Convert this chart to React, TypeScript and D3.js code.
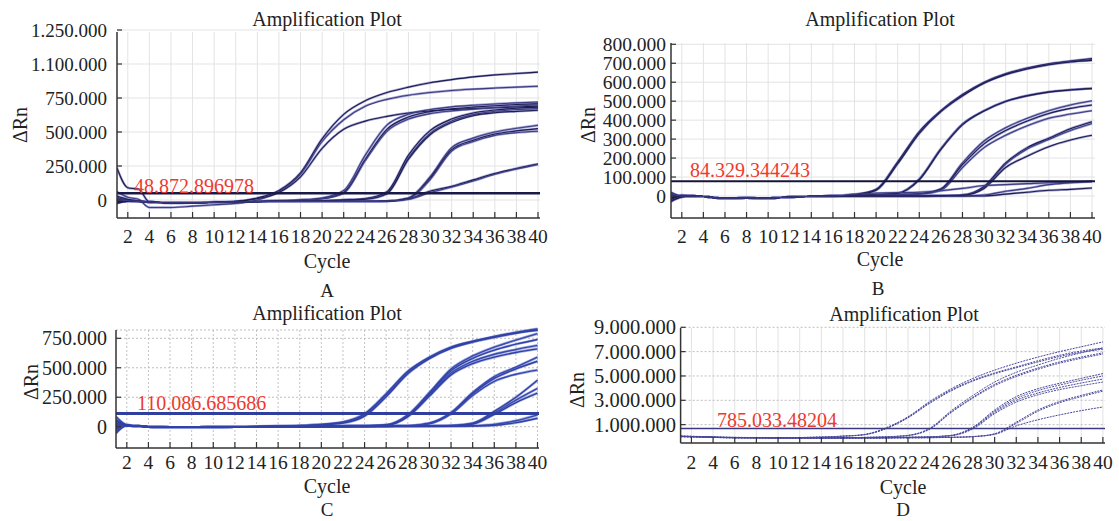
import React, { useRef, useEffect } from "react";
import * as d3 from "d3";

// sampled cycles shared by every curve
const cycles = [1, 2, 3, 4, 6, 8, 10, 12, 14, 16, 18, 20, 22, 24, 26, 28, 30, 32, 34, 36, 38, 40];
const xTickValues = [2, 4, 6, 8, 10, 12, 14, 16, 18, 20, 22, 24, 26, 28, 30, 32, 34, 36, 38, 40];

// ΔRn in thousands, one row per well
const curvesA = [
  [235, 90, 80, -15, -22, -20, -15, -10, 15, 70, 200, 450, 630, 730, 790, 830, 862, 885, 905, 920, 930, 940],
  [60, 20, 5, -55, -55, -45, -35, -25, 0, 60, 190, 430, 590, 690, 740, 770, 790, 805, 815, 823, 830, 836],
  [-20, -10, -12, -15, -22, -20, -15, -10, 10, 55, 170, 380, 520, 580, 615, 640, 655, 665, 672, 678, 684, 690],
  [20, 0, -5, -15, -20, -20, -18, -15, -10, -5, 0, 15, 70, 330, 550, 630, 665, 685, 697, 706, 714, 720],
  [10, 0, -5, -15, -20, -20, -18, -15, -10, -5, 0, 10, 55, 300, 520, 610, 650, 670, 683, 693, 702, 708],
  [-5, 0, -5, -15, -20, -20, -18, -15, -10, -5, 0, 10, 50, 290, 505, 595, 635, 655, 668, 680, 690, 700],
  [30, 5, -10, -15, -20, -20, -18, -15, -12, -10, -8, -5, 0, 10, 60, 330, 510, 595, 640, 662, 675, 683],
  [0, -5, -10, -15, -20, -20, -18, -15, -12, -10, -8, -5, 0, 8, 50, 310, 490, 580, 628, 652, 665, 672],
  [-10, -5, -10, -15, -20, -20, -18, -15, -12, -10, -8, -5, 0, 5, 45, 300, 480, 570, 620, 642, 652, 660],
  [0, -5, -10, -15, -20, -20, -18, -15, -12, -10, -10, -10, -10, -10, -8, 15, 170, 385, 455, 500, 528, 550],
  [-15, -5, -10, -15, -20, -20, -18, -15, -12, -10, -10, -10, -10, -10, -8, 12, 160, 370, 440, 485, 508, 525],
  [5, -5, -10, -15, -20, -20, -18, -15, -12, -10, -10, -10, -10, -10, -8, 10, 150, 360, 430, 475, 495, 505],
  [-25, -10, -10, -15, -20, -20, -18, -15, -12, -10, -10, -10, -10, -10, -8, 8, 65, 100, 148, 195, 232, 265],
  [10, -5, -10, -15, -20, -20, -18, -15, -12, -10, -10, -10, -10, -10, -8, 5, 55, 95, 140, 190, 228, 262],
];

const curvesB = [
  [20, 0, 0, -3, -12, -10, -12, -5, -2, 0, 8, 35, 180, 340, 450, 535, 600, 645, 675, 697, 712, 725],
  [-10, 5, 0, -3, -12, -10, -12, -5, -2, 0, 6, 32, 175, 335, 448, 530, 597, 642, 672, 695, 710, 720],
  [-30, -5, 0, -3, -12, -10, -12, -5, -2, 0, 5, 30, 170, 330, 445, 528, 595, 640, 670, 692, 707, 715],
  [10, 0, 0, -3, -12, -10, -12, -5, -2, 0, 3, 8, 15, 90, 250, 380, 450, 500, 530, 550, 560, 568],
  [-20, 0, 0, -3, -12, -10, -12, -5, -2, 0, 3, 8, 14, 85, 245, 375, 448, 498, 528, 548, 559, 566],
  [15, 0, 0, -3, -12, -10, -12, -5, -2, 0, 2, 5, 8, 12, 38, 175, 290, 360, 410, 450, 480, 502],
  [-15, 0, 0, -3, -12, -10, -12, -5, -2, 0, 2, 5, 8, 12, 35, 165, 275, 345, 395, 435, 462, 480],
  [5, 0, 0, -3, -12, -10, -12, -5, -2, 0, 2, 5, 8, 10, 30, 150, 255, 320, 370, 410, 432, 450],
  [-25, -5, 0, -3, -12, -10, -12, -5, -2, 0, 0, 0, 0, 0, 2, 5, 50, 175, 255, 305, 355, 392],
  [0, 0, 0, -3, -12, -10, -12, -5, -2, 0, 0, 0, 0, 0, 2, 5, 45, 168, 248, 298, 345, 382],
  [-5, 0, 0, -3, -12, -10, -12, -5, -2, 0, 0, 0, 0, 0, 2, 4, 40, 150, 210, 260, 295, 320],
  [0, 0, 0, -3, -12, -10, -12, -5, -2, 0, 0, 0, 0, 0, 0, 0, 5, 25, 40, 60, 70, 78],
  [-10, 0, 0, -3, -12, -10, -12, -5, -2, 0, 0, 0, 0, 0, 0, 0, 0, 10, 20, 30, 35, 42],
  [5, 0, 0, -3, -12, -10, -12, -5, -2, 0, 10, 15, 18, 20, 28, 40, 55, 60, 65, 70, 72, 75],
];

const curvesC = [
  [85, 15, 5, 0, -5, -5, -3, 0, 2, 5, 10, 20, 40, 110, 280, 470, 590, 675, 725, 765, 800, 830],
  [40, 15, 5, 0, -5, -5, -3, 0, 2, 5, 9, 18, 36, 100, 270, 462, 585, 670, 722, 762, 797, 825],
  [-56, 10, 5, 0, -5, -5, -3, 0, 2, 5, 8, 15, 30, 90, 255, 450, 578, 665, 718, 758, 793, 818],
  [20, 12, 5, 0, -5, -5, -3, 0, 0, 2, 3, 5, 6, 8, 15, 100, 290, 490, 600, 675, 735, 790],
  [0, 12, 5, 0, -5, -5, -3, 0, 0, 2, 3, 5, 6, 8, 14, 95, 280, 475, 580, 650, 700, 740],
  [-30, 10, 5, 0, -5, -5, -3, 0, 0, 2, 3, 5, 6, 8, 13, 90, 270, 455, 555, 615, 655, 690],
  [10, 10, 5, 0, -5, -5, -3, 0, 0, 2, 3, 5, 6, 8, 12, 85, 260, 440, 535, 590, 630, 660],
  [30, 10, 5, 0, -5, -5, -3, 0, 0, 0, 2, 3, 4, 5, 6, 8, 30, 120, 290, 425, 505, 590],
  [-20, 10, 5, 0, -5, -5, -3, 0, 0, 0, 2, 3, 4, 5, 6, 7, 28, 115, 280, 410, 490, 555],
  [5, 10, 5, 0, -5, -5, -3, 0, 0, 0, 2, 3, 4, 5, 6, 6, 25, 108, 265, 385, 445, 480],
  [60, 12, 5, 0, -5, -5, -3, 0, 0, 0, 0, 0, 2, 3, 4, 5, 6, 10, 30, 130, 250, 395],
  [-40, 10, 5, 0, -5, -5, -3, 0, 0, 0, 0, 0, 2, 3, 4, 5, 6, 9, 25, 115, 225, 325],
  [25, 10, 5, 0, -5, -5, -3, 0, 0, 0, 0, 0, 2, 3, 4, 5, 6, 8, 22, 105, 205, 285],
  [-10, 10, 5, 0, -5, -5, -3, 0, 0, 0, 0, 0, 0, 0, 2, 3, 4, 5, 8, 20, 50, 100],
  [50, 10, 5, 0, -5, -5, -3, 0, 0, 0, 0, 0, 0, 0, 2, 3, 4, 5, 6, 12, 35, 72],
];

const curvesD = [
  [60, 40, 20, -20, -50, -60, -70, -60, -20, 60, 200, 750, 1650, 2900, 3950, 4800, 5480, 6050, 6550, 7000, 7400, 7800],
  [50, 30, 10, -20, -50, -60, -70, -60, -25, 50, 180, 700, 1600, 2820, 3850, 4650, 5250, 5750, 6250, 6700, 7050, 7300],
  [40, 30, 10, -20, -50, -60, -70, -60, -25, 45, 170, 680, 1560, 2750, 3780, 4580, 5180, 5680, 6150, 6600, 6950, 7200],
  [50, 30, 10, -30, -60, -70, -80, -80, -80, -70, -50, 0, 120, 700, 2150, 3400, 4500, 5300, 5900, 6450, 6900, 7300],
  [30, 20, 0, -30, -60, -70, -80, -80, -80, -70, -50, 0, 110, 650, 2050, 3250, 4300, 5050, 5650, 6150, 6550, 6900],
  [20, 10, 0, -30, -60, -70, -80, -80, -80, -70, -55, -5, 100, 620, 2000, 3180, 4200, 4950, 5550, 6050, 6450, 6800],
  [40, 20, 0, -40, -70, -80, -90, -90, -90, -90, -80, -70, -40, 0, 120, 800, 2200, 3300, 3950, 4400, 4800, 5200],
  [30, 10, 0, -40, -70, -80, -90, -90, -90, -90, -80, -70, -45, -5, 110, 750, 2100, 3150, 3800, 4250, 4650, 5000],
  [20, 10, -10, -40, -70, -80, -90, -90, -90, -90, -80, -70, -45, -5, 100, 700, 2000, 3000, 3600, 4050, 4420, 4750],
  [10, 0, -10, -40, -70, -80, -90, -90, -90, -90, -80, -70, -50, -10, 90, 650, 1900, 2850, 3450, 3880, 4200, 4500],
  [30, 10, -10, -50, -80, -90, -100, -100, -100, -100, -100, -90, -80, -70, -40, 20, 250, 1200, 2200, 2900, 3400, 3850],
  [20, 0, -10, -50, -80, -90, -100, -100, -100, -100, -100, -90, -80, -70, -45, 15, 230, 1100, 2100, 2800, 3300, 3750],
  [10, 0, -20, -50, -80, -90, -100, -100, -100, -100, -100, -90, -80, -70, -50, 10, 200, 900, 1400, 1800, 2150, 2450],
];

const yTicksA = [0, 250000, 500000, 750000, 1000000, 1250000];
const yLabelsA = ["0", "250.000", "500.000", "750.000", "1.100.000", "1.250.000"];
const yTicksB = [0, 100000, 200000, 300000, 400000, 500000, 600000, 700000, 800000];
const yLabelsB = ["0", "100.000", "200.000", "300.000", "400.000", "500.000", "600.000", "700.000", "800.000"];
const yTicksC = [0, 250000, 500000, 750000];
const yLabelsC = ["0", "250.000", "500.000", "750.000"];
const yTicksD = [1000000, 3000000, 5000000, 7000000, 9000000];
const yLabelsD = ["1.000.000", "3.000.000", "5.000.000", "7.000.000", "9.000.000"];

const thresholdValues = [48873, 78000, 113000, 690000];
const thresholdLabels = ["48.872.896978", "84.329.344243", "110.086.685686", "785.033.48204"];
const panelLetters = ["A", "B", "C", "D"];

const FONT = "'Liberation Serif', 'Times New Roman', serif";

const panels = [
  {
    curves: curvesA, yTicks: yTicksA, yLabels: yLabelsA, tickFont: 19,
    x: [117, 538], axisRight: 540, yAnchor: [0, 1250000], yPix: [200, 30], top: 32, bottom: 218,
    colors: ["#1c1c4e", "#3c3c82"], halo: "#8a8ac8", lw: 1.1, dash: null, thr: "#1a1a48", thrW: 2.5,
    grid: "#e3e3e3", gridDash: null, hGridDash: null,
    title: [327, 26], ylab: [20, 125], cycle: [327, 268], letter: [327, 297], yLabRight: 107, xLabY: 243,
    thrLab: [134, 193],
  },
  {
    curves: curvesB, yTicks: yTicksB, yLabels: yLabelsB, tickFont: 19.5,
    x: [671, 1092], axisRight: 1095, yAnchor: [0, 800000], yPix: [196, 44.3], top: 43, bottom: 218,
    colors: ["#1c1c4e", "#3c3c82"], halo: "#8a8ac8", lw: 1.1, dash: null, thr: "#15153a", thrW: 2,
    grid: "#e3e3e3", gridDash: null, hGridDash: null,
    title: [880, 26], ylab: [588, 125], cycle: [880, 266], letter: [878, 295], yLabRight: 666, xLabY: 243,
    thrLab: [690, 177],
  },
  {
    curves: curvesC, yTicks: yTicksC, yLabels: yLabelsC, tickFont: 20,
    x: [116, 537.5], axisRight: 539, yAnchor: [0, 750000], yPix: [426.7, 338.3], top: 330, bottom: 448,
    colors: ["#3040a4", "#3848ae"], halo: "#8c98d8", lw: 1.4, dash: null, thr: "#2f3fa0", thrW: 3,
    grid: "#c4c4c4", gridDash: "2,2", hGridDash: "2,2",
    title: [327, 320], ylab: [31, 382], cycle: [327, 493], letter: [327, 516], yLabRight: 107, xLabY: 469,
    thrLab: [137, 410],
  },
  {
    curves: curvesD, yTicks: yTicksD, yLabels: yLabelsD, tickFont: 20.5,
    x: [680.6, 1102.9], axisRight: 1105, yAnchor: [0, 9000000], yPix: [436.8, 327.3], top: 328, bottom: 443,
    colors: ["#45459a", "#5050a0"], halo: null, lw: 1, dash: "2,1", thr: "#3a3a80", thrW: 1.5,
    grid: "#e2e2e2", gridDash: null, hGridDash: "2,2",
    title: [904, 321], ylab: [577, 390], cycle: [903, 494], letter: [903, 516], yLabRight: 676, xLabY: 469,
    thrLab: [717, 427],
  },
];

const App = () => {
  const ref = useRef(null);

  useEffect(() => {
    const svg = d3.select(ref.current);
    svg.selectAll("*").remove();

    panels.forEach((p, pi) => {
      const x = d3.scaleLinear().domain([1, 40]).range(p.x);
      const y = d3.scaleLinear().domain(p.yAnchor).range(p.yPix);
      const left = p.x[0];
      const g = svg.append("g");

      // grid
      g.append("g").selectAll("line").data(xTickValues).join("line")
        .attr("x1", d => x(d)).attr("x2", d => x(d))
        .attr("y1", p.top).attr("y2", p.bottom)
        .attr("stroke", p.grid).attr("stroke-width", 1)
        .attr("stroke-dasharray", p.gridDash);
      g.append("g").selectAll("line").data(p.yTicks).join("line")
        .attr("x1", left).attr("x2", p.axisRight)
        .attr("y1", d => y(d)).attr("y2", d => y(d))
        .attr("stroke", p.hGridDash ? "#bdbdbd" : p.grid).attr("stroke-width", 1)
        .attr("stroke-dasharray", p.hGridDash);
      if (pi === 2) {
        g.append("line").attr("x1", left).attr("x2", p.axisRight)
          .attr("y1", p.top).attr("y2", p.top)
          .attr("stroke", "#bdbdbd").attr("stroke-dasharray", "2,2");
      }

      const clipId = "clip" + pi;
      svg.append("clipPath").attr("id", clipId).append("rect")
        .attr("x", left).attr("y", p.top - 6)
        .attr("width", p.axisRight - left).attr("height", p.bottom - p.top + 6);

      const line = d3.line<number>()
        .x((d, i) => x(cycles[i]))
        .y(d => y(d * 1000))
        .curve(d3.curveMonotoneX);

      const cg = g.append("g").attr("clip-path", `url(#${clipId})`);
      if (p.halo) {
        cg.append("g").selectAll("path").data(p.curves).join("path")
          .attr("d", d => line(d))
          .attr("fill", "none")
          .attr("stroke", p.halo)
          .attr("stroke-opacity", 0.8)
          .attr("stroke-width", p.lw + 1.3);
      }
      cg.append("g").selectAll("path").data(p.curves).join("path")
        .attr("d", d => line(d))
        .attr("fill", "none")
        .attr("stroke", (d, i) => p.colors[i % 2])
        .attr("stroke-width", p.lw)
        .attr("stroke-dasharray", p.dash);

      // threshold
      cg.append("line")
        .attr("x1", left).attr("x2", p.axisRight)
        .attr("y1", y(thresholdValues[pi])).attr("y2", y(thresholdValues[pi]))
        .attr("stroke", p.thr).attr("stroke-width", p.thrW);

      g.append("text")
        .attr("x", p.thrLab[0]).attr("y", p.thrLab[1])
        .attr("fill", "#ee3a2e").attr("font-family", FONT).attr("font-size", 20)
        .text(thresholdLabels[pi]);

      // axes
      g.append("line").attr("x1", left).attr("x2", left).attr("y1", p.top).attr("y2", p.bottom)
        .attr("stroke", "#333").attr("stroke-width", 1.5);
      g.append("line").attr("x1", left).attr("x2", p.axisRight).attr("y1", p.bottom).attr("y2", p.bottom)
        .attr("stroke", "#333").attr("stroke-width", 1.5);

      g.append("g").selectAll("line").data(xTickValues).join("line")
        .attr("x1", d => x(d)).attr("x2", d => x(d))
        .attr("y1", p.bottom).attr("y2", p.bottom - 6)
        .attr("stroke", "#333").attr("stroke-width", 1.2);
      g.append("g").selectAll("line").data(p.yTicks).join("line")
        .attr("x1", left).attr("x2", left + 5)
        .attr("y1", d => y(d)).attr("y2", d => y(d))
        .attr("stroke", "#333").attr("stroke-width", 1.2);

      g.append("g").selectAll("text").data(xTickValues).join("text")
        .attr("x", d => x(d)).attr("y", p.xLabY)
        .attr("text-anchor", "middle")
        .attr("font-family", FONT).attr("font-size", 19.5).attr("fill", "#222")
        .text(d => String(d));
      g.append("g").selectAll("text").data(p.yTicks).join("text")
        .attr("x", p.yLabRight).attr("y", d => y(d))
        .attr("dy", "0.35em")
        .attr("text-anchor", "end")
        .attr("font-family", FONT).attr("font-size", p.tickFont).attr("fill", "#222")
        .text((d, i) => p.yLabels[i]);

      // titles
      g.append("text").attr("x", p.title[0]).attr("y", p.title[1])
        .attr("text-anchor", "middle").attr("font-family", FONT).attr("font-size", 20).attr("fill", "#222")
        .text("Amplification Plot");
      g.append("text")
        .attr("transform", `translate(${p.ylab[0]},${p.ylab[1]}) rotate(-90)`)
        .attr("dy", "0.35em")
        .attr("text-anchor", "middle").attr("font-family", FONT).attr("font-size", 20).attr("fill", "#222")
        .text("ΔRn");
      g.append("text").attr("x", p.cycle[0]).attr("y", p.cycle[1])
        .attr("text-anchor", "middle").attr("font-family", FONT).attr("font-size", 20).attr("fill", "#222")
        .text("Cycle");
      g.append("text").attr("x", p.letter[0]).attr("y", p.letter[1])
        .attr("text-anchor", "middle").attr("font-family", FONT).attr("font-size", 19).attr("fill", "#222")
        .text(panelLetters[pi]);
    });
  });

  return (
    <div>
      <svg ref={ref} width={1119} height={521}
        style={{ position: "absolute", left: 0, top: 0, background: "#fff" }}></svg>
    </div>
  );
};

export default App;
